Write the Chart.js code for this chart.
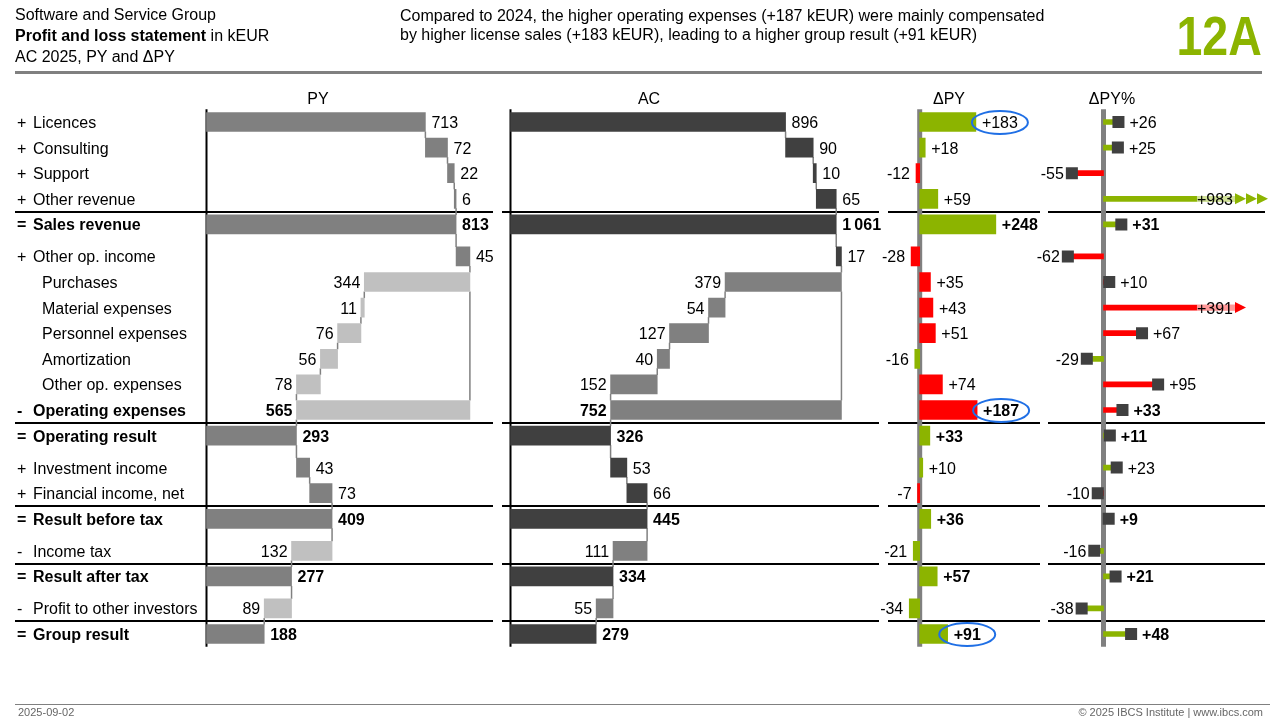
<!DOCTYPE html>
<html>
<head>
<meta charset="utf-8">
<script src="https://cdn.jsdelivr.net/npm/chart.js@4.4.1/dist/chart.umd.min.js"></script>
<style>
  body { margin: 0; background: #fff; font-family: "Liberation Sans", Arial, sans-serif; }
  #page { position: relative; width: 1280px; height: 720px; overflow: hidden; background: #fff; }
  #pl { position: absolute; left: 0; top: 0; }
  .t { position: absolute; font-size: 16px; line-height: 20px; color: #000; white-space: nowrap; }
  .c { line-height: 19px; }
  #num { position: absolute; right: 18px; top: 8px; font-size: 56px; line-height: 56px; font-weight: bold;
         color: #8CB400; transform: scaleX(0.83); transform-origin: right center; }
  .hr { position: absolute; left: 15px; width: 1247px; height: 3px; background: #808080; }
  .hr2 { position: absolute; left: 15px; width: 1255px; height: 1px; background: #808080; }
  .foot { position: absolute; top: 706px; font-size: 11px; line-height: 12px; color: #666; white-space: nowrap; }
</style>
</head>
<body>
<div id="page">
  <canvas id="pl" width="1280" height="720"></canvas>
  <div class="t" style="left:15px;top:5px">Software and Service Group</div>
  <div class="t" style="left:15px;top:26px"><b>Profit and loss statement</b> in kEUR</div>
  <div class="t" style="left:15px;top:47px">AC 2025, PY and ΔPY</div>
  <div class="t c" style="left:400px;top:6px">Compared to 2024, the higher operating expenses (+187 kEUR) were mainly compensated<br>by higher license sales (+183 kEUR), leading to a higher group result (+91 kEUR)</div>
  <div id="num">12A</div>
  <div class="hr" style="top:71px"></div>
  <div class="hr2" style="top:704px"></div>
  <div class="foot" style="left:18px">2025-09-02</div>
  <div class="foot" style="right:17px">© 2025 IBCS Institute | www.ibcs.com</div>
</div>
<script>
const categories = ["Licences", "Consulting", "Support", "Other revenue", "Sales revenue",
  "Other op. income", "Purchases", "Material expenses", "Personnel expenses", "Amortization",
  "Other op. expenses", "Operating expenses", "Operating result", "Investment income",
  "Financial income, net", "Result before tax", "Income tax", "Result after tax",
  "Profit to other investors", "Group result"];
const signs = ["+", "+", "+", "+", "=", "+", "", "", "", "", "", "-", "=", "+", "+", "=", "-", "=", "-", "="];
const rowTypes = ["add", "add", "add", "add", "sum", "add", "sub", "sub", "sub", "sub", "sub", "subsum",
  "sum", "add", "add", "sum", "sub", "sum", "sub", "sum"];
const py = [713, 72, 22, 6, 813, 45, 344, 11, 76, 56, 78, 565, 293, 43, 73, 409, 132, 277, 89, 188];
const ac = [896, 90, 10, 65, 1061, 17, 379, 54, 127, 40, 152, 752, 326, 53, 66, 445, 111, 334, 55, 279];
const deltaPY = [183, 18, -12, 59, 248, -28, 35, 43, 51, -16, 74, 187, 33, 10, -7, 36, -21, 57, -34, 91];
const deltaPYPct = [26, 25, -55, 983, 31, -62, 10, 391, 67, -29, 95, 33, 11, 23, -10, 9, -16, 21, -38, 48];
const highlighted = ["Licences", "Operating expenses", "Group result"];

const FONT = '"Liberation Sans", Arial, sans-serif';
const GREEN = "#8CB400";
const RED = "#FF0000";
const BAR = 19;
const K = 0.307;          // px per kEUR (PY, AC, ΔPY share one scale)
const KP = 0.575;         // px per percent point
const AREA_RIGHT = 1235;  // ΔPY% values beyond this get arrows
const TEXT_DY = 1.5;
const SEGMENTS = [[15, 493], [502, 879], [888, 1040], [1048, 1265]];
const TITLES = [["PY", 318], ["AC", 649], ["ΔPY", 949], ["ΔPY%", 1112]];

// row positions, a little extra space after every total
const rowPos = [];
let p = 0;
rowTypes.forEach(t => { rowPos.push(p); p += t === "sum" ? 1.25 : 1; });

const isExpense = i => rowTypes[i] === "sub" || rowTypes[i] === "subsum";
const isBold = i => rowTypes[i] === "sum" || rowTypes[i] === "subsum";
const isGood = i => deltaPY[i] * (isExpense(i) ? -1 : 1) > 0;

function waterfall(vals) {
  let run = 0;
  return vals.map((v, i) => {
    const t = rowTypes[i];
    if (t === "sum") { run = v; return [0, v]; }
    if (t === "add") { run += v; return [run - v, run]; }
    if (t === "sub") { run -= v; return [run, run + v]; }
    return [run, run + v];
  });
}
const pyBars = waterfall(py);
const acBars = waterfall(ac);

function xRange(zero, k) {
  return { type: "linear", display: false, min: -zero / k, max: (AREA_RIGHT - zero) / k };
}

const fmt = v => String(v).replace(/\B(?=(\d{3})+(?!\d))/g, "\u2009");
const fmtSigned = v => (v > 0 ? "+" : "") + fmt(v);

function vline(ctx, x, y0, y1) {
  ctx.beginPath(); ctx.moveTo(x, y0); ctx.lineTo(x, y1); ctx.stroke();
}

function drawConnectors(ctx, bars, xs, y) {
  const h = BAR / 2;
  ctx.strokeStyle = "#808080";
  ctx.lineWidth = 1.5;
  for (let i = 1; i < bars.length; i++) {
    const prev = bars[i - 1], cur = bars[i];
    prev.filter(v => v !== 0 && cur.includes(v)).forEach(v => {
      vline(ctx, xs.getPixelForValue(v), y.getPixelForValue(rowPos[i - 1]) + h, y.getPixelForValue(rowPos[i]) - h);
    });
    if (rowTypes[i] === "subsum") {
      let k = i - 1;
      while (rowTypes[k - 1] === "sub") k--;
      vline(ctx, xs.getPixelForValue(bars[k][1]), y.getPixelForValue(rowPos[k]) + h, y.getPixelForValue(rowPos[i]) - h);
    }
  }
}

function drawWaterfallLabels(ctx, vals, bars, xs, y) {
  vals.forEach((v, i) => {
    const yy = y.getPixelForValue(rowPos[i]) + TEXT_DY;
    ctx.font = (isBold(i) ? "bold " : "") + "16px " + FONT;
    if (isExpense(i)) {
      ctx.textAlign = "right";
      ctx.fillText(fmt(v), xs.getPixelForValue(bars[i][0]) - 4, yy);
    } else {
      ctx.textAlign = "left";
      ctx.fillText(fmt(v), xs.getPixelForValue(bars[i][1]) + 6, yy);
    }
  });
}

const panelPlugin = {
  id: "panels",
  beforeDatasetsDraw(chart) {
    const { ctx, chartArea: a, scales } = chart;
    const y = scales.y;
    ctx.save();
    // lines above the totals
    ctx.strokeStyle = "#000";
    ctx.lineWidth = 2;
    rowTypes.forEach((t, i) => {
      if (t !== "sum" || i === 0) return;
      const yy = Math.round(y.getPixelForValue((rowPos[i] + rowPos[i - 1]) / 2));
      SEGMENTS.forEach(([x0, x1]) => {
        ctx.beginPath(); ctx.moveTo(x0, yy); ctx.lineTo(x1, yy); ctx.stroke();
      });
    });
    drawConnectors(ctx, pyBars, scales.xPY, y);
    drawConnectors(ctx, acBars, scales.xAC, y);
    // axes
    ctx.strokeStyle = "#000";
    ctx.lineWidth = 2;
    vline(ctx, scales.xPY.getPixelForValue(0), a.top, a.bottom);
    vline(ctx, scales.xAC.getPixelForValue(0), a.top, a.bottom);
    ctx.strokeStyle = "#808080";
    ctx.lineWidth = 5;
    vline(ctx, scales.xD.getPixelForValue(0), a.top, a.bottom);
    vline(ctx, scales.xDP.getPixelForValue(0), a.top, a.bottom);
    ctx.restore();
  },
  afterDatasetsDraw(chart) {
    const { ctx, chartArea: a, scales } = chart;
    const y = scales.y;
    ctx.save();
    ctx.fillStyle = "#000";
    ctx.textBaseline = "middle";

    // panel titles
    ctx.font = "16px " + FONT;
    ctx.textAlign = "center";
    TITLES.forEach(([txt, x]) => ctx.fillText(txt, x, 100));

    // row labels
    categories.forEach((c, i) => {
      const yy = y.getPixelForValue(rowPos[i]) + TEXT_DY;
      ctx.font = (isBold(i) ? "bold " : "") + "16px " + FONT;
      ctx.textAlign = "left";
      ctx.fillText(signs[i], 17, yy);
      ctx.fillText(c, signs[i] ? 33 : 42, yy);
    });

    drawWaterfallLabels(ctx, py, pyBars, scales.xPY, y);
    drawWaterfallLabels(ctx, ac, acBars, scales.xAC, y);

    // ΔPY labels and highlight ellipses
    deltaPY.forEach((v, i) => {
      const yy = y.getPixelForValue(rowPos[i]) + TEXT_DY;
      const x = scales.xD.getPixelForValue(v);
      const txt = fmtSigned(v);
      ctx.font = (isBold(i) ? "bold " : "") + "16px " + FONT;
      const w = ctx.measureText(txt).width;
      ctx.fillStyle = "#000";
      let left;
      if (v >= 0) { ctx.textAlign = "left"; left = x + 6; ctx.fillText(txt, left, yy); }
      else { ctx.textAlign = "right"; left = x - 6 - w; ctx.fillText(txt, x - 6, yy); }
      if (highlighted.includes(categories[i])) {
        ctx.strokeStyle = "#1F6FE5";
        ctx.lineWidth = 2;
        ctx.beginPath();
        ctx.ellipse(left + w / 2, yy - 1, 28, 11.5, 0, 0, Math.PI * 2);
        ctx.stroke();
      }
    });

    // ΔPY% labels and arrows for values off the scale
    const xs = scales.xDP;
    deltaPYPct.forEach((v, i) => {
      const yc = y.getPixelForValue(rowPos[i]);
      const yy = yc + TEXT_DY;
      const txt = fmtSigned(v);
      ctx.font = (isBold(i) ? "bold " : "") + "16px " + FONT;
      if (v > xs.max) {
        const w = ctx.measureText(txt).width;
        ctx.fillStyle = "rgba(255,255,255,0.6)";
        ctx.fillRect(a.right - w - 2, yc - 3, w + 2, 6);
        ctx.fillStyle = "#000";
        ctx.textAlign = "right";
        ctx.fillText(txt, a.right - 2, yy);
        ctx.fillStyle = isGood(i) ? GREEN : RED;
        const heads = v > 3 * xs.max ? 3 : 1;
        for (let h = 0; h < heads; h++) {
          const x0 = a.right + h * 11;
          ctx.beginPath();
          ctx.moveTo(x0, yc - 5.5); ctx.lineTo(x0 + 11, yc); ctx.lineTo(x0, yc + 5.5);
          ctx.closePath(); ctx.fill();
        }
        return;
      }
      const x = xs.getPixelForValue(v);
      ctx.fillStyle = "#000";
      if (v >= 0) { ctx.textAlign = "left"; ctx.fillText(txt, x + 11, yy); }
      else { ctx.textAlign = "right"; ctx.fillText(txt, x - 8, yy); }
    });
    ctx.restore();
  }
};

const deltaColors = deltaPY.map((v, i) => isGood(i) ? GREEN : RED);

const plChart = new Chart(document.getElementById("pl").getContext("2d"), {
  type: "bar",
  data: {
    datasets: [
      {
        label: "ΔPY% marker",
        type: "line",
        data: deltaPYPct.map((v, i) => ({ x: v <= (AREA_RIGHT - 1103.5) / KP ? v : null, y: rowPos[i] })),
        xAxisID: "xDP",
        showLine: false,
        pointStyle: "rect",
        pointRadius: 8.5,
        pointBackgroundColor: "#404040",
        pointBorderWidth: 0,
        order: 0,
      },
      {
        label: "PY",
        data: pyBars.map((b, i) => ({ x: b, y: rowPos[i] })),
        xAxisID: "xPY",
        backgroundColor: pyBars.map((b, i) => isExpense(i) ? "#C0C0C0" : "#808080"),
        order: 1,
      },
      {
        label: "AC",
        data: acBars.map((b, i) => ({ x: b, y: rowPos[i] })),
        xAxisID: "xAC",
        backgroundColor: acBars.map((b, i) => isExpense(i) ? "#808080" : "#404040"),
        order: 1,
      },
      {
        label: "ΔPY",
        data: deltaPY.map((v, i) => ({ x: [0, v], y: rowPos[i] })),
        xAxisID: "xD",
        backgroundColor: deltaColors,
        order: 1,
      },
      {
        label: "ΔPY%",
        data: deltaPYPct.map((v, i) => ({ x: [0, v], y: rowPos[i] })),
        xAxisID: "xDP",
        backgroundColor: deltaColors,
        barThickness: 5,
        clip: 0,
        order: 1,
      },
    ],
  },
  options: {
    indexAxis: "y",
    responsive: false,
    animation: false,
    events: [],
    layout: { autoPadding: false, padding: { left: 0, right: 1280 - AREA_RIGHT, top: 109.2, bottom: 73.2 } },
    datasets: { bar: { grouped: false, barThickness: BAR, borderWidth: 0 } },
    scales: {
      y: { type: "linear", display: false, min: -0.5, max: 20.5, reverse: true, offset: false },
      xPY: xRange(206.5, K),
      xAC: xRange(510.5, K),
      xD: xRange(919.7, K),
      xDP: xRange(1103.5, KP),
    },
    plugins: {
      legend: { display: false },
      tooltip: { enabled: false },
    },
  },
  plugins: [panelPlugin],
});
</script>
</body>
</html>
